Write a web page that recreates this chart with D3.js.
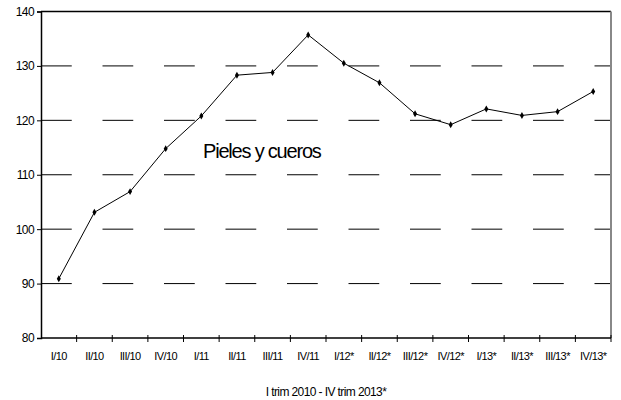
<!DOCTYPE html>
<html>
<head>
<meta charset="utf-8">
<script src="https://cdn.jsdelivr.net/npm/d3@7"></script>
<style>
  body { margin: 0; background: #fff; }
  svg { display: block; font-family: "Liberation Sans", Arial, sans-serif; }
</style>
</head>
<body>
<svg id="chart"></svg>
<script>
// data
const quarters = ["I/10", "II/10", "III/10", "IV/10", "I/11", "II/11", "III/11", "IV/11",
  "I/12*", "II/12*", "III/12*", "IV/12*", "I/13*", "II/13*", "III/13*", "IV/13*"];
const values = [90.9, 103.1, 106.9, 114.8, 120.8, 128.3, 128.8, 135.7,
  130.5, 126.9, 121.2, 119.2, 122.1, 120.9, 121.6, 125.3];
const yTicks = [80, 90, 100, 110, 120, 130, 140];
const seriesLabel = "Pieles y cueros";
const xTitle = "I trim 2010 - IV trim 2013*";

const width = 621, height = 400;
const margin = { top: 11.5, right: 10, bottom: 62, left: 41 };

const svg = d3.select("#chart")
  .attr("width", width)
  .attr("height", height);

const x = d3.scaleBand()
  .domain(quarters)
  .range([margin.left, width - margin.right]);

const y = d3.scaleLinear()
  .domain([80, 140])
  .range([height - margin.bottom, margin.top]);

// dashed gridlines
svg.append("g")
  .selectAll("line")
  .data(yTicks.filter(d => d > 80 && d < 140))
  .join("line")
  .attr("x1", margin.left)
  .attr("x2", width - margin.right)
  .attr("y1", d => y(d))
  .attr("y2", d => y(d))
  .attr("stroke", "#000")
  .attr("stroke-width", 1)
  .attr("stroke-dasharray", "30.75,30.75");

// top border
svg.append("line")
  .attr("x1", margin.left).attr("x2", width - margin.right)
  .attr("y1", y(140)).attr("y2", y(140))
  .attr("stroke", "#000").attr("stroke-width", 1.5);

// right border (grey)
svg.append("line")
  .attr("x1", width - margin.right).attr("x2", width - margin.right)
  .attr("y1", y(140)).attr("y2", y(80))
  .attr("stroke", "#888").attr("stroke-width", 2);

// y axis
const yAxis = svg.append("g")
  .attr("transform", `translate(${margin.left},0)`)
  .call(d3.axisLeft(y).tickValues(yTicks).tickSize(4).tickPadding(3));
yAxis.select(".domain").attr("stroke-width", 1.5);
yAxis.selectAll("text")
  .attr("font-size", "12px")
  .attr("letter-spacing", "-0.6px")
  .attr("fill", "#000")
  .attr("font-family", "Liberation Sans, Arial, sans-serif");

// x axis: ticks on band boundaries, crossing the axis
const xg = svg.append("g");
xg.append("line")
  .attr("x1", margin.left).attr("x2", width - margin.right)
  .attr("y1", y(80)).attr("y2", y(80))
  .attr("stroke", "#000").attr("stroke-width", 1.5);
xg.selectAll(".xtick")
  .data(quarters)
  .join("line")
  .attr("class", "xtick")
  .attr("x1", d => x(d) + x.bandwidth())
  .attr("x2", d => x(d) + x.bandwidth())
  .attr("y1", y(80) - 3)
  .attr("y2", y(80) + 4)
  .attr("stroke", "#000");
xg.selectAll(".xlabel")
  .data(quarters)
  .join("text")
  .attr("class", "xlabel")
  .attr("x", d => x(d) + x.bandwidth() / 2)
  .attr("y", y(80) + 22)
  .attr("text-anchor", "middle")
  .attr("font-size", "11px")
  .attr("letter-spacing", "-0.6px")
  .text(d => d);

// x title
svg.append("text")
  .attr("x", (margin.left + width - margin.right) / 2)
  .attr("y", 396)
  .attr("text-anchor", "middle")
  .attr("font-size", "12px")
  .attr("letter-spacing", "-0.6px")
  .text(xTitle);

// series line
const line = d3.line()
  .x((d, i) => x(quarters[i]) + x.bandwidth() / 2)
  .y(d => y(d));

svg.append("path")
  .datum(values)
  .attr("d", line)
  .attr("fill", "none")
  .attr("stroke", "#000")
  .attr("stroke-width", 1);

// diamond markers
svg.append("g")
  .selectAll("path")
  .data(values)
  .join("path")
  .attr("transform", (d, i) => `translate(${x(quarters[i]) + x.bandwidth() / 2},${y(d)})`)
  .attr("d", d3.symbol(d3.symbolDiamond, 14))
  .attr("fill", "#000");

// series label
svg.append("text")
  .attr("x", 203)
  .attr("y", 157.5)
  .attr("font-size", "20px")
  .attr("letter-spacing", "-1.2px")
  .text(seriesLabel);
</script>
</body>
</html>
